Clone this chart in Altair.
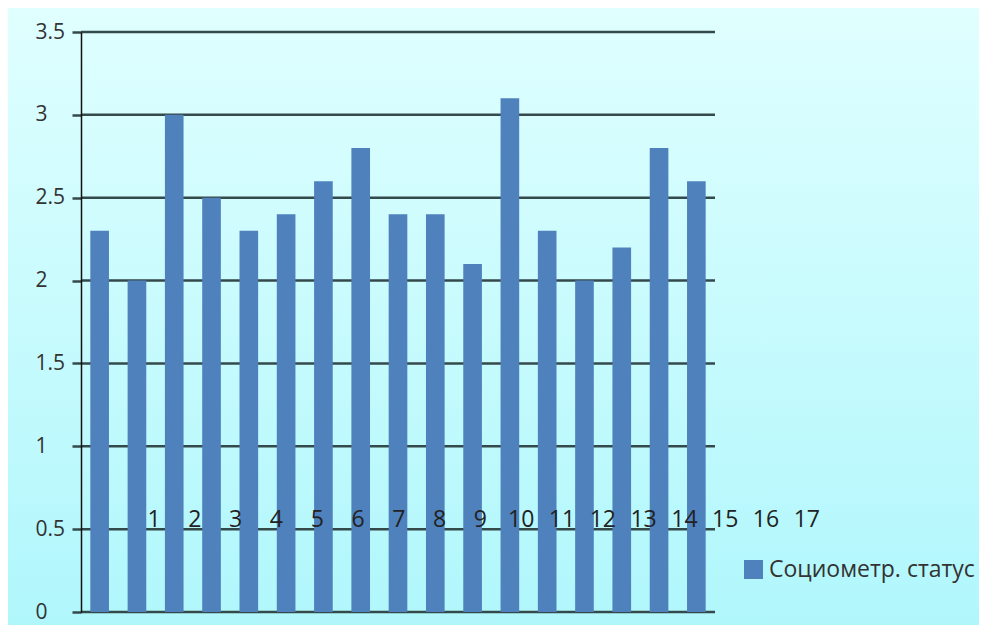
import altair as alt
import pandas as pd

# data
bar_index = list(range(1, 18))
status_values = [2.3, 2.0, 3.0, 2.5, 2.3, 2.4, 2.6, 2.8, 2.4, 2.4, 2.1, 3.1, 2.3, 2.0, 2.2, 2.8, 2.6]
series_name = "Социометр. статус"
x_labels = [str(i) for i in range(1, 18)]
y_ticks = [0, 0.5, 1, 1.5, 2, 2.5, 3, 3.5]

W, H = 634, 580
PAD_L, PAD_T, PAD_R, PAD_B = 73, 24, 264, 13
FONT = "Open Sans"
BAR = "#4f81bd"
GRID = "#34494a"

bars_df = pd.DataFrame({"idx": bar_index, "value": status_values, "series": [series_name] * len(bar_index)})
labels_df = pd.DataFrame({"pos": list(range(1, 18)), "label": x_labels, "yv": [0.5] * len(x_labels)})
grid_df = pd.DataFrame({"tick": y_ticks})
bg_df = pd.DataFrame({"a": [0]})

yscale = alt.Scale(domain=[0, 3.5], nice=False, zero=True)
yaxis = alt.Axis(
    values=y_ticks, format="~g", title=None, grid=False, zindex=1,
    tickColor=GRID, tickWidth=2.5, tickSize=9,
    domainColor="#111111", domainWidth=1.5,
    labelFont=FONT, labelFontSize=21, labelColor="#333333",
    labelAlign="left", labelPadding=37,
)

background = alt.Chart(bg_df).mark_rect(
    color={
        "gradient": "linear",
        "stops": [
            {"offset": 0, "color": "#e0ffff"},
            {"offset": 1, "color": "#b0f7fc"},
        ],
        "x1": 0, "y1": 0, "x2": 0, "y2": 1,
    },
    clip=False,
).encode(
    x=alt.value(-PAD_L), x2=alt.value(W + PAD_R),
    y=alt.value(-PAD_T), y2=alt.value(H + PAD_B),
)

grid = alt.Chart(grid_df).mark_rule(color=GRID, strokeWidth=2.5).encode(
    y=alt.Y("tick:Q", scale=yscale, axis=yaxis),
)

bars = alt.Chart(bars_df).mark_bar().encode(
    x=alt.X("idx:O", axis=None, scale=alt.Scale(paddingInner=0.5, paddingOuter=0.25)),
    y=alt.Y("value:Q", scale=yscale, axis=yaxis),
    color=alt.Color(
        "series:N",
        scale=alt.Scale(range=[BAR]),
        legend=alt.Legend(
            orient="none", legendX=661, legendY=526, title=None, padding=0,
            symbolType="square", symbolSize=361, symbolStrokeWidth=0, symbolOpacity=1,
            labelFont=FONT, labelFontSize=23, labelColor="#333333", labelOffset=4,
            labelLimit=400,
        ),
    ),
)

labels = alt.Chart(labels_df).mark_text(
    font=FONT, fontSize=23, color="#222222", baseline="alphabetic", align="center", dy=-2, clip=False,
).encode(
    x=alt.X("pos:Q", axis=None, scale=alt.Scale(domain=[-0.79, 14.75], nice=False, zero=False)),
    y=alt.Y("yv:Q", scale=yscale, axis=yaxis),
    text="label:N",
)

chart = alt.layer(background, grid, bars, labels).resolve_scale(x="independent").properties(
    width=W, height=H,
    autosize=alt.AutoSizeParams(type="none"),
    padding={"left": PAD_L, "top": PAD_T, "right": PAD_R, "bottom": PAD_B},
    background="#dcfcff",
).configure_view(stroke=None)

chart.save("out.html", embed_options={"renderer": "svg", "actions": False})
